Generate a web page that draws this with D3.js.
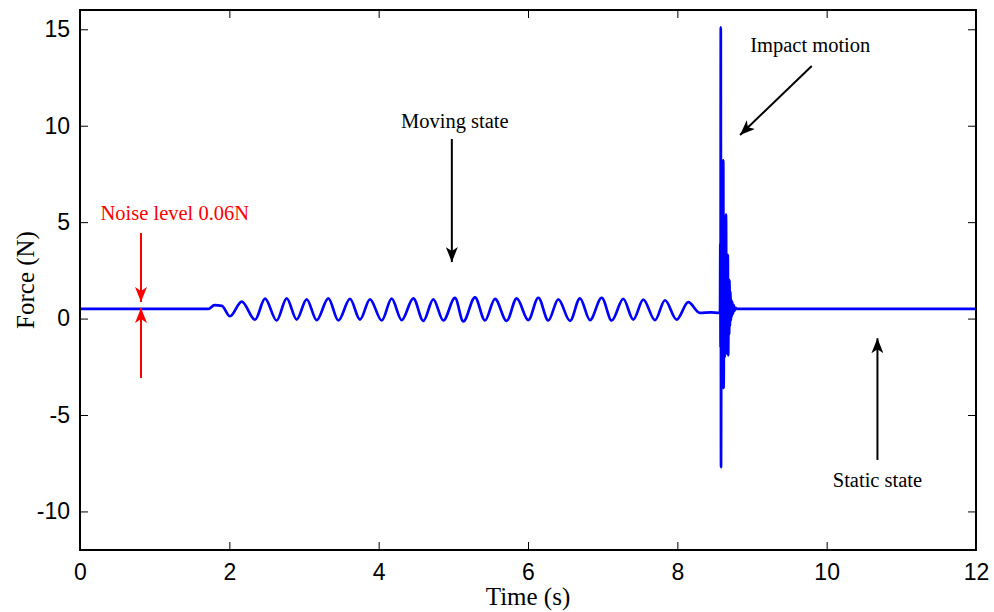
<!DOCTYPE html>
<html>
<head>
<meta charset="utf-8">
<script src="https://cdn.jsdelivr.net/npm/d3@7"></script>
<style>
  body { margin: 0; background: #fff; }
  svg { display: block; }
  .tick text { font-family: "Liberation Sans", Arial, sans-serif; font-size: 23px; fill: #000; }
  .note { font-family: "Liberation Serif", "Times New Roman", serif; font-size: 20.5px; }
</style>
</head>
<body>
<svg id="chart" width="994" height="612"></svg>
<script>
// tick labels
const xTicks = [0, 2, 4, 6, 8, 10, 12];
const yTicks = [-10, -5, 0, 5, 10, 15];

// quiet baseline before motion
const restTime  = [0, 0.5, 1.0, 1.5, 1.72, 1.80, 1.9, 2.009];
const restForce = [0.5, 0.5, 0.5, 0.5, 0.5, 0.7, 0.66, 0.12];

// oscillation peaks / troughs (moving state)
const peakTime = [2.166, 2.478, 2.768, 3.036, 3.326, 3.616, 3.884, 4.174, 4.464, 4.732, 5.022,
                  5.290, 5.558, 5.849, 6.138, 6.406, 6.696, 6.987, 7.276, 7.544, 7.835, 8.147];
const peakForce = [0.88, 1.03, 1.05, 1.0, 1.05, 1.02, 1.0, 1.03, 1.05, 1.0, 1.07,
                   1.1, 1.02, 1.05, 1.08, 1.0, 1.05, 1.08, 1.02, 0.98, 0.95, 0.85];
const troughTime = [2.344, 2.634, 2.902, 3.170, 3.460, 3.750, 4.041, 4.308, 4.598, 4.866,
                    5.134, 5.424, 5.714, 6.004, 6.272, 6.563, 6.830, 7.121, 7.410, 7.701, 7.991];
const troughForce = [-0.06, -0.1, -0.05, -0.08, -0.1, -0.05, -0.1, -0.08, -0.12, -0.1,
                     -0.15, -0.1, -0.12, -0.08, -0.1, -0.12, -0.08, -0.1, -0.05, -0.08, -0.05];

// impact and static state
const impactTime = [8.30, 8.45, 8.560, 8.572, 8.576, 8.579, 8.582, 8.585, 8.590, 8.596, 8.602, 8.608,
                    8.615, 8.620, 8.627, 8.634, 8.640, 8.646, 8.652, 8.658, 8.664, 8.670, 8.676,
                    8.681, 8.688, 8.694, 8.698, 8.704, 8.710, 8.716, 8.722, 8.730, 8.738, 8.746,
                    8.755, 8.765, 8.78, 8.80, 10.0, 12.0];
const impactForce = [0.3, 0.32, 0.3, 0.35, 3.9, -1.5, 15.1, -7.7, 1.2, -3.0, 1.3, -2.2,
                     8.2, -3.6, 1.5, -2.0, 2.6, -1.6, 5.4, -1.8, 1.6, -1.4, 3.3,
                     -1.9, 1.5, -0.8, 2.0, -0.4, 1.4, -0.1, 1.0, 0.1, 0.85, 0.25,
                     0.7, 0.4, 0.55, 0.5, 0.5, 0.5];

// annotations in data units
const notes = [
  { text: "Noise level 0.06N", t: 1.27, f: 5.09, color: "red" },
  { text: "Moving state", t: 5.02, f: 9.88, color: "#000" },
  { text: "Impact motion", t: 9.78, f: 13.84, color: "#000" },
  { text: "Static state", t: 10.68, f: -8.72, color: "#000" }
];
const arrows = [
  { t0: 0.817, f0: 4.44, t1: 0.817, f1: 0.86, color: "red" },
  { t0: 0.817, f0: -3.08, t1: 0.817, f1: 0.55, color: "red" },
  { t0: 4.98, f0: 9.31, t1: 4.98, f1: 2.93, color: "#000" },
  { t0: 9.80, f0: 13.1, t1: 8.84, f1: 9.52, color: "#000" },
  { t0: 10.68, f0: -7.33, t1: 10.68, f1: -1.02, color: "#000" }
];

// build the signal
let signal = [];
restTime.forEach((t, i) => signal.push([t, restForce[i]]));
peakTime.forEach((t, i) => {
  signal.push([t, peakForce[i]]);
  if (i < troughTime.length) signal.push([troughTime[i], troughForce[i]]);
});
impactTime.forEach((t, i) => signal.push([t, impactForce[i]]));
signal.sort((a, b) => a[0] - b[0]);

const margin = { left: 80, right: 18, top: 10, bottom: 62 };
const width = 994, height = 612;

let svg = d3.select("#chart");

let x = d3.scaleLinear().domain([0, 12]).range([margin.left, width - margin.right]);
let y = d3.scaleLinear().domain([-12, 16]).range([height - margin.bottom, margin.top]);

// arrow heads
let defs = svg.append("defs");
["#000", "red"].forEach((c, i) => {
  defs.append("marker")
    .attr("id", "head" + i)
    .attr("viewBox", "0 0 15 12")
    .attr("refX", 15).attr("refY", 6)
    .attr("markerWidth", 15).attr("markerHeight", 12)
    .attr("markerUnits", "userSpaceOnUse")
    .attr("orient", "auto")
    .append("path")
    .attr("d", "M0,0 L15,6 L0,12 L4,6 Z")
    .attr("fill", c);
});

// the signal line
let line = d3.line()
  .x(d => x(d[0]))
  .y(d => y(d[1]))
  .curve(d3.curveMonotoneX);

svg.append("path")
  .datum(signal)
  .attr("fill", "none")
  .attr("stroke", "#0000ff")
  .attr("stroke-width", 2.7)
  .attr("stroke-linejoin", "round")
  .attr("d", line);

// axes, MATLAB style ticks pointing inward
const tl = 8;
const fmt = d => String(d);
svg.append("g")
  .attr("transform", `translate(0,${y(-12)})`)
  .call(d3.axisBottom(x).tickValues(xTicks).tickSize(-tl).tickPadding(14).tickFormat(fmt))
  .call(g => g.select(".domain").remove());
svg.append("g")
  .attr("transform", `translate(0,${y(16)})`)
  .call(d3.axisTop(x).tickValues(xTicks).tickSize(-tl).tickFormat(""))
  .call(g => g.select(".domain").remove());
svg.append("g")
  .attr("transform", `translate(${x(0)},0)`)
  .call(d3.axisLeft(y).tickValues(yTicks).tickSize(-tl).tickPadding(10).tickFormat(fmt))
  .call(g => g.select(".domain").remove());
svg.append("g")
  .attr("transform", `translate(${x(12)},0)`)
  .call(d3.axisRight(y).tickValues(yTicks).tickSize(-tl).tickFormat(""))
  .call(g => g.select(".domain").remove());

svg.selectAll(".tick line").attr("stroke", "#000").attr("stroke-width", 1);

// box
svg.append("rect")
  .attr("x", x(0)).attr("y", y(16))
  .attr("width", x(12) - x(0)).attr("height", y(-12) - y(16))
  .attr("fill", "none")
  .attr("stroke", "#000")
  .attr("stroke-width", 2);

// axis titles
svg.append("text")
  .attr("class", "note")
  .attr("x", x(6)).attr("y", 605)
  .attr("text-anchor", "middle")
  .style("font-size", "25px")
  .text("Time (s)");
svg.append("text")
  .attr("class", "note")
  .attr("transform", `translate(34,${y(2)}) rotate(-90)`)
  .attr("text-anchor", "middle")
  .style("font-size", "25px")
  .text("Force (N)");

// annotations
svg.selectAll(".ann")
  .data(notes)
  .join("text")
  .attr("class", "note ann")
  .attr("x", d => x(d.t))
  .attr("y", d => y(d.f))
  .attr("text-anchor", "middle")
  .attr("fill", d => d.color)
  .text(d => d.text);

svg.selectAll(".arrow")
  .data(arrows)
  .join("line")
  .attr("class", "arrow")
  .attr("x1", d => x(d.t0)).attr("y1", d => y(d.f0))
  .attr("x2", d => x(d.t1)).attr("y2", d => y(d.f1))
  .attr("stroke", d => d.color)
  .attr("stroke-width", 2)
  .attr("marker-end", d => d.color === "red" ? "url(#head1)" : "url(#head0)");
</script>
</body>
</html>
